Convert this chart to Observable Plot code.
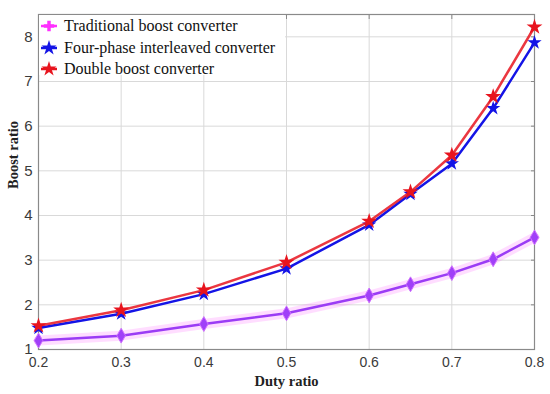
<!DOCTYPE html>
<html><head><meta charset="utf-8">
<script src="https://cdn.jsdelivr.net/npm/d3@7"></script>
<script src="https://cdn.jsdelivr.net/npm/@observablehq/plot@0.6"></script>
<style>
body{margin:0;background:#fff;}
#wrap{position:relative;width:550px;height:394px;}
#legend{position:absolute;left:39px;top:15px;width:246px;height:60px;background:#fff;font-family:"Liberation Serif","Times New Roman",serif;font-size:16px;color:#111;}
.item{position:absolute;left:0;height:20px;display:flex;align-items:center;}
.item svg{width:24px;height:20px;margin-right:1px;}
</style></head>
<body><div id="wrap"><div id="legend"></div></div>
<script>
const duty = [0.2, 0.3, 0.4, 0.5, 0.6, 0.65, 0.7, 0.75, 0.8];
const traditional = [1.2, 1.31, 1.57, 1.81, 2.21, 2.46, 2.71, 3.02, 3.51];
const fourPhase = [1.48, 1.8, 2.24, 2.81, 3.79, 4.48, 5.16, 6.4, 7.87];
const doubleBoost = [1.53, 1.88, 2.33, 2.95, 3.87, 4.53, 5.35, 6.66, 8.22];
const seriesNames = ["Traditional boost converter", "Four-phase interleaved converter", "Double boost converter"];
const xTicks = [0.2, 0.3, 0.4, 0.5, 0.6, 0.7, 0.8];
const yTicks = [1, 2, 3, 4, 5, 6, 7, 8];

const rows = (ys) => duty.map((d, i) => ({x: d, y: ys[i]}));
const T = rows(traditional), F = rows(fourPhase), D = rows(doubleBoost);

const tickFont = "'Liberation Sans',Arial,sans-serif";
const serif = "'Liberation Serif','Times New Roman',serif";

const chart = Plot.plot({
  width: 550, height: 394,
  marginLeft: 38, marginRight: 16, marginTop: 14, marginBottom: 45,
  x: {domain: [0.2, 0.8]},
  y: {domain: [1, 8.5]},
  style: {background: "transparent"},
  marks: [
    Plot.gridX(xTicks, {stroke: "#d9d9d9", strokeOpacity: 1}),
    Plot.gridY(yTicks, {stroke: "#d9d9d9", strokeOpacity: 1}),
    Plot.axisX(xTicks, {anchor: "bottom", tickSize: 0, tickPadding: 8, fontSize: 14, fontFamily: tickFont, fill: "#3a3a3a", label: null, tickFormat: d => d.toFixed(1)}),
    Plot.axisY(yTicks, {anchor: "left", tickSize: 0, tickPadding: 6, fontSize: 15, fontFamily: tickFont, fill: "#3a3a3a", label: null}),
    Plot.axisX(xTicks, {anchor: "top", tickSize: -4, stroke: "#888", tickFormat: () => "", label: null}),
    Plot.axisY(yTicks, {anchor: "right", tickSize: -4, stroke: "#888", tickFormat: () => "", label: null}),
    Plot.frame({stroke: "#8a8a8a", strokeWidth: 1.2}),
    Plot.text(["Duty ratio"], {frameAnchor: "bottom", dy: 36, fontSize: 14.5, fontFamily: serif, fontWeight: "bold", fill: "#222"}),
    Plot.text(["Boost ratio"], {frameAnchor: "left", dx: -25, dy: 7, rotate: -90, fontSize: 14.5, fontFamily: serif, fontWeight: "bold", fill: "#222"}),
    // traditional with pink halo
    Plot.line(T, {x: "x", y: "y", stroke: "#ff66ff", strokeWidth: 10, strokeOpacity: 0.22}),
    Plot.line(T, {x: "x", y: "y", stroke: "#9b3cf5", strokeWidth: 2.5}),
    Plot.dot(T, {x: "x", y: "y", symbol: "diamond", r: 4.5, fill: "#a040f8", stroke: "#d070ff", strokeWidth: 1}),
    // four-phase
    Plot.line(F, {x: "x", y: "y", stroke: "#1414e6", strokeWidth: 2.5}),
    Plot.dot(F, {x: "x", y: "y", symbol: "star", r: 4.5, fill: "#1414e6"}),
    // double
    Plot.line(D, {x: "x", y: "y", stroke: "#e8141e", strokeWidth: 2.5, strokeOpacity: 0.85}),
    Plot.dot(D, {x: "x", y: "y", symbol: "star", r: 5, fill: "#e8141e"})
  ]
});
document.getElementById("wrap").prepend(chart);

// legend
const legendColors = ["#ff30ff", "#1414e6", "#e8141e"];
const legendSymbols = [d3.symbolCross, d3.symbolStar, d3.symbolStar];
const lg = document.getElementById("legend");
seriesNames.forEach((name, i) => {
  const item = document.createElement("div");
  item.className = "item";
  item.style.top = (1 + i * 21.5) + "px";
  const sym = d3.symbol(legendSymbols[i], i === 0 ? 60 : 70)();
  item.innerHTML = `<svg viewBox="0 0 24 20"><line x1="2" x2="18" y1="10" y2="10" stroke="${legendColors[i]}" stroke-width="2.5"/><path d="${sym}" transform="translate(10,10)" fill="${legendColors[i]}"/></svg><span>${name}</span>`;
  lg.appendChild(item);
});
</script></body></html>
